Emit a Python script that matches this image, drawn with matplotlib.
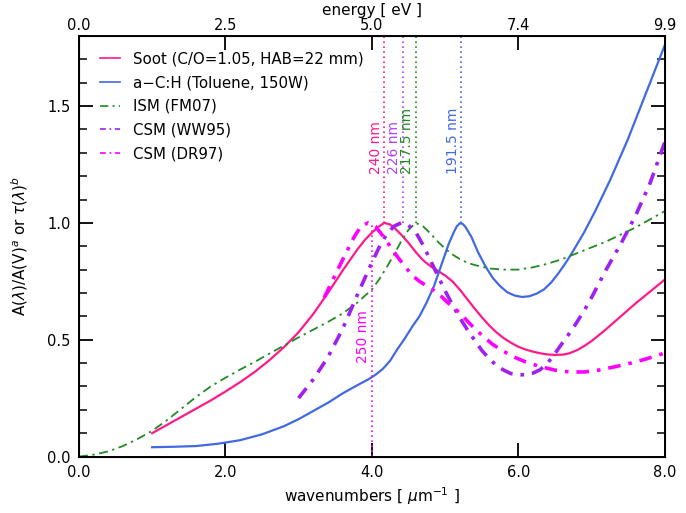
import matplotlib
matplotlib.use("Agg")
import matplotlib.pyplot as plt
import numpy as np

# ---------------- data ----------------
soot_x = [1.0, 1.2, 1.4, 1.6, 1.8, 2.0, 2.2, 2.4, 2.6, 2.8, 3.0, 3.2, 3.4, 3.6, 3.8, 3.9,
          4.0, 4.1, 4.17, 4.25, 4.32, 4.4, 4.5, 4.6, 4.7, 4.8, 4.9, 5.0, 5.1, 5.2, 5.3,
          5.4, 5.5, 5.6, 5.7, 5.8, 5.9, 6.0, 6.1, 6.2, 6.3, 6.4, 6.5, 6.6, 6.7, 6.8,
          6.9, 7.0, 7.2, 7.4, 7.6, 7.8, 8.0]
soot_y = [0.10, 0.135, 0.17, 0.205, 0.24, 0.278, 0.318, 0.362, 0.412, 0.468, 0.532, 0.61,
          0.70, 0.795, 0.885, 0.925, 0.958, 0.985, 1.0, 0.993, 0.975, 0.95, 0.915, 0.875, 0.84,
          0.815, 0.795, 0.775, 0.75, 0.715, 0.675, 0.635, 0.597, 0.562, 0.532, 0.507, 0.487,
          0.47, 0.458, 0.449, 0.442, 0.437, 0.435, 0.436, 0.442, 0.455, 0.473, 0.494, 0.545,
          0.60, 0.655, 0.706, 0.757]

ach_x = [1.0, 1.3, 1.6, 1.9, 2.2, 2.5, 2.8, 3.0, 3.2, 3.4, 3.6, 3.8, 3.95, 4.05, 4.15,
         4.25, 4.35, 4.45, 4.55, 4.65, 4.75, 4.85, 4.95, 5.05, 5.12, 5.16, 5.2, 5.24, 5.28,
         5.36, 5.45, 5.55, 5.65, 5.75, 5.85, 5.95, 6.05, 6.15, 6.25, 6.35, 6.45, 6.55,
         6.65, 6.75, 6.9, 7.05, 7.25, 7.5, 7.75, 8.0]
ach_y = [0.04, 0.042, 0.045, 0.055, 0.07, 0.095, 0.13, 0.16, 0.195, 0.23, 0.27, 0.305,
         0.33, 0.35, 0.375, 0.41, 0.46, 0.505, 0.555, 0.60, 0.66, 0.73, 0.82, 0.91, 0.96,
         0.985, 0.998, 0.996, 0.982, 0.94, 0.875, 0.815, 0.765, 0.73, 0.703, 0.689, 0.683,
         0.686, 0.697, 0.715, 0.745, 0.785, 0.83, 0.88, 0.96, 1.05, 1.18, 1.36, 1.56, 1.76]

ism_x = [0.0, 0.2, 0.4, 0.6, 0.8, 1.0, 1.2, 1.4, 1.6, 1.8, 2.0, 2.2, 2.4, 2.6, 2.8, 3.0,
         3.2, 3.4, 3.6, 3.8, 4.0, 4.1, 4.2, 4.3, 4.4, 4.5, 4.6, 4.7, 4.8, 4.9, 5.0, 5.1,
         5.2, 5.3, 5.4, 5.6, 5.8, 6.0, 6.2, 6.4, 6.6, 6.8, 7.0, 7.2, 7.4, 7.6, 7.8, 8.0]
ism_y = [0.0, 0.008, 0.022, 0.045, 0.075, 0.11, 0.155, 0.205, 0.255, 0.30, 0.337, 0.372,
         0.405, 0.44, 0.475, 0.51, 0.543, 0.576, 0.612, 0.658, 0.715, 0.758, 0.808, 0.863,
         0.92, 0.97, 1.0, 0.985, 0.955, 0.92, 0.89, 0.865, 0.845, 0.83, 0.82, 0.805, 0.80,
         0.80, 0.81, 0.825, 0.845, 0.87, 0.895, 0.92, 0.95, 0.98, 1.015, 1.05]

ww95_x = [3.0, 3.2, 3.4, 3.6, 3.8, 3.9, 4.0, 4.1, 4.2, 4.3, 4.4, 4.5, 4.6, 4.7, 4.8,
          4.9, 5.0, 5.1, 5.2, 5.3, 5.4, 5.5, 5.6, 5.7, 5.8, 5.9, 6.0, 6.1, 6.2, 6.3,
          6.4, 6.5, 6.6, 6.75, 6.9, 7.0, 7.2, 7.4, 7.6, 7.8, 8.0]
ww95_y = [0.25, 0.33, 0.425, 0.545, 0.69, 0.76, 0.83, 0.895, 0.95, 0.985, 1.0, 0.99,
          0.96, 0.905, 0.84, 0.775, 0.71, 0.65, 0.595, 0.545, 0.50, 0.455, 0.42, 0.39,
          0.37, 0.355, 0.35, 0.35, 0.357, 0.372, 0.40, 0.44, 0.485, 0.55, 0.625, 0.68,
          0.80, 0.91, 1.03, 1.17, 1.345]

dr97_x = [3.35, 3.45, 3.55, 3.65, 3.75, 3.85, 3.95, 4.05, 4.15, 4.25, 4.35, 4.45, 4.55,
          4.65, 4.75, 4.85, 4.95, 5.05, 5.2, 5.35, 5.5, 5.65, 5.8, 5.95, 6.1, 6.3, 6.5,
          6.7, 6.9, 7.1, 7.3, 7.5, 7.75, 8.0]
dr97_y = [0.68, 0.745, 0.81, 0.872, 0.935, 0.985, 1.0, 0.985, 0.945, 0.90, 0.855, 0.815,
          0.775, 0.75, 0.73, 0.71, 0.685, 0.655, 0.615, 0.565, 0.52, 0.48, 0.45, 0.425,
          0.405, 0.385, 0.37, 0.362, 0.362, 0.37, 0.383, 0.397, 0.418, 0.443]

peak_nm = [240, 226, 217.5, 191.5]
peak_labels = ["240 nm", "226 nm", "217.5 nm", "191.5 nm"]
dr97_nm = 250
dr97_label = "250 nm"

xticks = [0, 2, 4, 6, 8]
xticklabels = ["0.0", "2.0", "4.0", "6.0", "8.0"]
eticklabels = ["0.0", "2.5", "5.0", "7.4", "9.9"]
yticks = [0.0, 0.5, 1.0, 1.5]
yticklabels = ["0.0", "0.5", "1.0", "1.5"]

# ---------------- style ----------------
c_soot = "#FF1A8C"
c_ach = "#4169E1"
c_ism = "#228B22"
c_ww = "#A020F0"
c_dr = "#FF00FF"

plt.rcParams["font.family"] = ["DejaVu Sans"]
plt.rcParams["mathtext.fontset"] = "dejavusans"

fig = plt.figure(figsize=(6.86, 5.13), dpi=100)
ax = fig.add_axes([0.115, 0.110, 0.854, 0.820])

ax.plot(soot_x, soot_y, color=c_soot, lw=1.6, label="Soot (C/O=1.05, HAB=22 mm)")
ax.plot(ach_x, ach_y, color=c_ach, lw=1.6, label="a\u2212C:H (Toluene, 150W)")
ax.plot(ism_x, ism_y, color=c_ism, lw=1.3, dashes=(5, 2.5, 1.3, 2.5), label="ISM (FM07)")
ax.plot(ww95_x, ww95_y, color=c_ww, lw=2.6, dashes=(3.5, 2.2, 1, 2.2), label="CSM (WW95)")
ax.plot(dr97_x, dr97_y, color=c_dr, lw=2.6, dashes=(3.5, 2.2, 1, 2.2), label="CSM (DR97)")

ymax = 1.8
peak_cols = [c_soot, "#B040FF", c_ism, c_ach]
for nm, lab, col in zip(peak_nm, peak_labels, peak_cols):
    xp = 1000.0 / nm
    ax.plot([xp, xp], [1.0, ymax], color=col, lw=1.2, ls=(0, (1, 2)))
    ax.text(xp - 0.02, 1.21, lab, rotation=90, rotation_mode="anchor",
            ha="left", va="bottom", color=col, fontsize=10)
xd = 1000.0 / dr97_nm
ax.plot([xd, xd], [0.0, 1.0], color=c_dr, lw=1.2, ls=(0, (1, 2)))
ax.text(xd - 0.02, 0.40, dr97_label, rotation=90, rotation_mode="anchor",
        ha="left", va="bottom", color=c_dr, fontsize=10)

ax.set_xlim(0, 8)
ax.set_ylim(0, ymax)
ax.set_xticks(xticks)
ax.set_xticklabels(xticklabels)
ax.set_yticks(yticks)
ax.set_yticklabels(yticklabels)
ax.set_yticks(np.arange(0, 1.81, 0.1), minor=True)
ax.tick_params(axis="both", which="major", direction="in", length=10, width=1.3,
               labelsize=10.5, right=True, pad=6)
ax.tick_params(axis="y", which="minor", direction="in", length=6, width=1.1, right=True)
for s in ax.spines.values():
    s.set_linewidth(1.4)

ax.set_xlabel("wavenumbers [ $\\mu$m$^{-1}$ ]", fontsize=11, labelpad=4)
ax.set_ylabel("A($\\lambda$)/A(V)$^{a}$ or $\\tau$($\\lambda$)$^{b}$", fontsize=11, labelpad=12)

ax2 = ax.twiny()
ax2.set_xlim(0, 8)
ax2.set_xticks(xticks)
ax2.set_xticklabels(eticklabels)
ax2.tick_params(axis="x", direction="in", length=10, width=1.3, labelsize=10.5, pad=2)
ax2.set_xlabel("energy [ eV ]", fontsize=11, labelpad=2)

leg = ax.legend(loc="upper left", bbox_to_anchor=(0.026, 0.977), borderaxespad=0,
                frameon=False, fontsize=10.8, handlelength=1.3,
                handletextpad=0.9, labelspacing=0.58)
for h in leg.get_lines():
    h.set_linewidth(1.2)

fig.savefig("out.png", dpi=100)
